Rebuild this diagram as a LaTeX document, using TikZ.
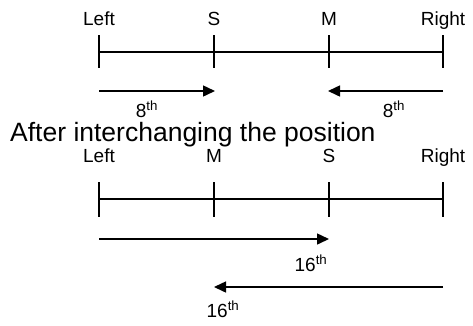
\documentclass[tikz,border=0pt]{standalone}
\usepackage{fontspec}
\setmainfont{Liberation Sans}
\usetikzlibrary{arrows.meta}
\begin{document}
\begin{tikzpicture}[x=1pt,y=-1pt,
  lbl/.style={font=\fontsize{19}{21}\selectfont, anchor=base, inner sep=0pt},
  ord/.style={font=\fontsize{19}{21}\selectfont, anchor=base, inner sep=0pt},
  axis/.style={line width=1.5pt},
  tick/.style={line width=1.5pt},
  arr/.style={line width=1.5pt, -{Triangle[length=12pt,width=11pt]}}]
\useasboundingbox (0,0) rectangle (473,325);
% top section
\node[lbl] (tL) at (99,25) {Left};
\node[lbl] (tS) at (214,25) {S};
\node[lbl] (tM) at (329,25) {M};
\node[lbl] (tR) at (443,25) {Right};
\coordinate (a1) at (99,35); \coordinate (a2) at (99,68);
\coordinate (b1) at (214,35); \coordinate (b2) at (214,68);
\coordinate (c1) at (329,35); \coordinate (c2) at (329,68);
\coordinate (d1) at (443,35); \coordinate (d2) at (443,68);
\draw[tick] (a1) -- (a2);
\draw[tick] (b1) -- (b2);
\draw[tick] (c1) -- (c2);
\draw[tick] (d1) -- (d2);
\coordinate (l1) at (99,52); \coordinate (r1) at (443,52);
\draw[axis] (l1) -- (r1);
\coordinate (p1) at (99,91); \coordinate (q1) at (215,91);
\draw[arr] (p1) -- (q1);
\coordinate (p2) at (443,91); \coordinate (q2) at (328,91);
\draw[arr] (p2) -- (q2);
\node[ord] (e1) at (147,117) {8\textsuperscript{th}};
\node[ord] (e2) at (394,117) {8\textsuperscript{th}};
% title
\node[font=\fontsize{26.5}{30}\selectfont, anchor=base west, inner sep=0pt] (title) at (10,141) {After interchanging the position};
% bottom section
\node[lbl] (bL) at (99,162) {Left};
\node[lbl] (bM) at (214,162) {M};
\node[lbl] (bS) at (329,162) {S};
\node[lbl] (bR) at (443,162) {Right};
\coordinate (f1) at (99,182); \coordinate (f2) at (99,217);
\coordinate (g1) at (214,182); \coordinate (g2) at (214,217);
\coordinate (h1) at (329,182); \coordinate (h2) at (329,217);
\coordinate (k1) at (443,182); \coordinate (k2) at (443,217);
\draw[tick] (f1) -- (f2);
\draw[tick] (g1) -- (g2);
\draw[tick] (h1) -- (h2);
\draw[tick] (k1) -- (k2);
\coordinate (l2) at (99,199); \coordinate (r2) at (443,199);
\draw[axis] (l2) -- (r2);
\coordinate (p3) at (99,239); \coordinate (q3) at (329,239);
\draw[arr] (p3) -- (q3);
\coordinate (p4) at (443,287); \coordinate (q4) at (214,287);
\draw[arr] (p4) -- (q4);
\node[ord] (s1) at (311,271) {16\textsuperscript{th}};
\node[ord] (s2) at (223,317) {16\textsuperscript{th}};
\end{tikzpicture}
\end{document}
